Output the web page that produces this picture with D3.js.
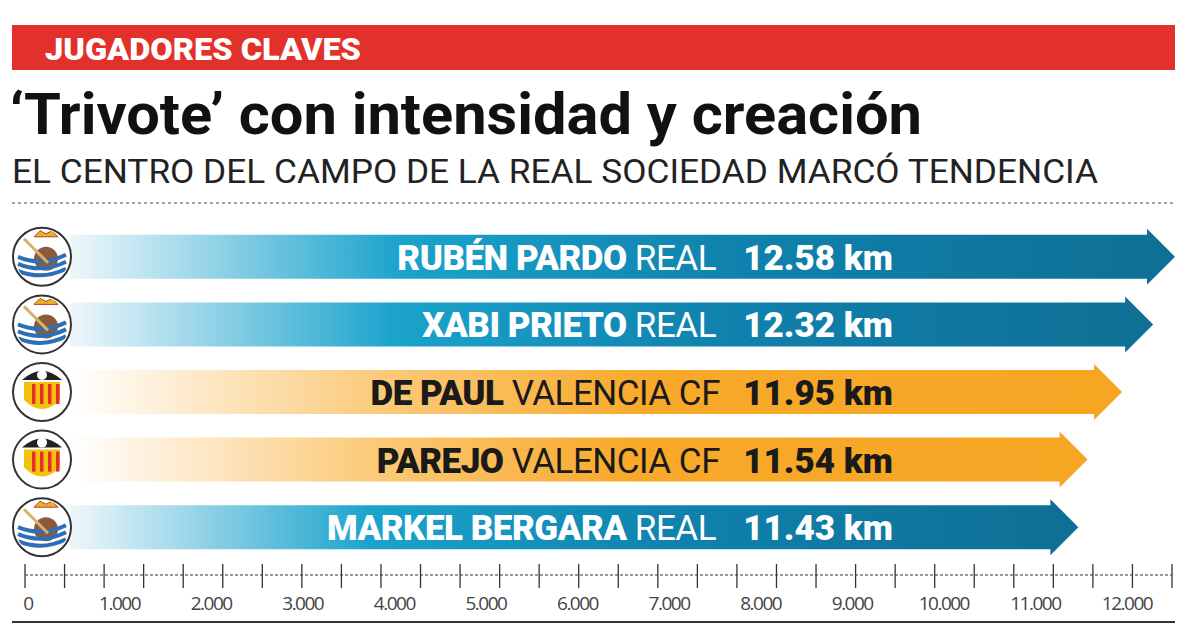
<!DOCTYPE html>
<html><head><meta charset="utf-8">
<script src="https://cdn.jsdelivr.net/npm/d3@7"></script>
<style>body{margin:0;background:#fff}</style></head>
<body><div id="chart"></div>
<script>
var players = ["RUBÉN PARDO","XABI PRIETO","DE PAUL","PAREJO","MARKEL BERGARA"];
var teams = ["REAL","REAL","VALENCIA CF","VALENCIA CF","REAL"];
var km = [12.58,12.32,11.95,11.54,11.43];
var axisLabels = [0,1000,2000,3000,4000,5000,6000,7000,8000,9000,10000,11000,12000];
var minorTicks = d3.range(0,30);

var svg = d3.select("#chart").append("svg").attr("width",1200).attr("height",642);
var defs = svg.append("defs");
defs.append("clipPath").attr("id","crestclip").append("circle").attr("r",27);

function grad(id, stops){
  var g = defs.append("linearGradient").attr("id",id).attr("x1","0").attr("x2","1").attr("y1","0").attr("y2","0");
  stops.forEach(function(s){ g.append("stop").attr("offset",s[0]).attr("stop-color",s[1]); });
}
grad("blue",[[0,"#eef7fb"],[0.3,"#1aa3cc"],[0.6,"#0f82ad"],[1,"#0f6f95"]]);
grad("orange",[[0,"#ffffff"],[0.3,"#fbc978"],[0.55,"#f8a92a"],[1,"#f6a623"]]);

// header
svg.append("rect").attr("x",12).attr("y",25).attr("width",1163).attr("height",45).attr("fill","#e2312a");
svg.append("text").attr("x",45).attr("y",60).text("JUGADORES CLAVES")
   .attr("font-family","Roboto").attr("font-weight","900").attr("font-size",31).attr("fill","#fff")
   .attr("textLength",316).attr("lengthAdjust","spacingAndGlyphs");
svg.append("text").attr("x",10).attr("y",134).text("‘Trivote’ con intensidad y creación")
   .attr("font-family","Roboto").attr("font-weight","bold").attr("font-size",58).attr("fill","#111")
   .attr("textLength",912).attr("lengthAdjust","spacingAndGlyphs");
svg.append("text").attr("x",12).attr("y",183).text("EL CENTRO DEL CAMPO DE LA REAL SOCIEDAD MARCÓ TENDENCIA")
   .attr("font-family","Roboto").attr("font-size",33).attr("fill","#222")
   .attr("textLength",1086).attr("lengthAdjust","spacingAndGlyphs");
svg.append("line").attr("x1",12).attr("x2",1175).attr("y1",203).attr("y2",203)
   .attr("stroke","#444").attr("stroke-dasharray","3,3");

// bars
var x = d3.scaleLinear().domain([0,12.58]).range([118,1175]);
var y = d3.scaleBand().domain(players).range([223,561]).paddingInner(0.0);
var bh = 44, hh = 56, hw = 28;

var rows = svg.selectAll(".row").data(players).enter().append("g")
   .attr("transform",function(d){ return "translate(0,"+(y(d)+y.bandwidth()/2)+")"; });

rows.append("path")
   .attr("d",function(d,i){
     var e = x(km[i]);
     return "M70,"+(-bh/2)+"L"+(e-hw)+","+(-bh/2)+"L"+(e-hw)+","+(-hh/2)+"L"+e+",0L"+(e-hw)+","+(hh/2)+"L"+(e-hw)+","+(bh/2)+"L70,"+(bh/2)+"Z";
   })
   .attr("fill",function(d,i){ return teams[i]=="REAL" ? "url(#blue)" : "url(#orange)"; });

rows.append("text").attr("x",893).attr("y",13).attr("text-anchor","end")
   .attr("font-family","Roboto").attr("font-weight","900").attr("font-size",35)
   .attr("fill",function(d,i){ return teams[i]=="REAL" ? "#fff" : "#1a1a1a"; })
   .text(function(d,i){ return d3.format(".2f")(km[i])+" km"; });

var nm = rows.append("text").attr("x",function(d,i){ return teams[i]=="REAL" ? 716 : 720; }).attr("y",13)
   .attr("text-anchor","end").attr("font-family","Roboto").attr("font-size",35)
   .attr("fill",function(d,i){ return teams[i]=="REAL" ? "#fff" : "#1a1a1a"; })
   .attr("letter-spacing","-0.5");
nm.append("tspan").attr("font-weight","900").text(function(d){ return d+" "; });
nm.append("tspan").text(function(d,i){ return teams[i]; });

// crests
var crest = rows.append("g").attr("transform","translate(42,0)");
crest.append("circle").attr("r",29).attr("fill","#fff").attr("stroke","#333").attr("stroke-width",2);
crest.each(function(d,i){
  var g = d3.select(this).append("g").attr("clip-path","url(#crestclip)");
  if(teams[i]=="REAL"){
    g.append("circle").attr("cx",4).attr("cy",2).attr("r",12).attr("fill","#8a5a3a");
    g.append("path").attr("d","M-8,-20L-2,-26L4,-23L10,-26L16,-20Z").attr("fill","#e8b423").attr("stroke","#c0392b");
    [6,13,20].forEach(function(o){
      g.append("path").attr("d","M-24,"+(o-6)+"Q0,"+(o+4)+" 24,"+(o-8)).attr("stroke","#2c6fb5").attr("stroke-width",4).attr("fill","none");
    });
    g.append("line").attr("x1",-18).attr("y1",-18).attr("x2",6).attr("y2",6).attr("stroke","#d9b06a").attr("stroke-width",3);
  } else {
    g.append("path").attr("d","M-18,-10L18,-10L18,8Q0,26 -18,8Z").attr("fill","#f4c20d");
    [-10,-2,6,14].forEach(function(o){
      g.append("rect").attr("x",o).attr("y",-8).attr("width",3.5).attr("height",20).attr("fill","#e2312a");
    });
    g.append("path").attr("d","M-20,-12Q0,-30 20,-12Z").attr("fill","#222");
    g.append("circle").attr("cy",-17).attr("r",5).attr("fill","#fff");
  }
});

// axis
var axisY = 575;
var tickX = d3.scaleLinear().domain([0,29]).range([25,1172]);
svg.append("line").attr("x1",25).attr("x2",1172).attr("y1",axisY).attr("y2",axisY)
   .attr("stroke","#333").attr("stroke-dasharray","3,2");
svg.selectAll(".tk").data(minorTicks).enter().append("line")
   .attr("x1",function(d){ return tickX(d); }).attr("x2",function(d){ return tickX(d); })
   .attr("y1",axisY-11).attr("y2",axisY+13).attr("stroke","#333").attr("stroke-width",1.3);
var xl = d3.scaleLinear().domain([0,12000]).range([28,1127]);
svg.selectAll(".lb").data(axisLabels).enter().append("text")
   .attr("x",function(d){ return xl(d); }).attr("y",610).attr("text-anchor","middle")
   .attr("font-family","Open Sans").attr("font-size",19).attr("fill","#444").attr("letter-spacing","-1.5")
   .text(function(d){ return d3.format(",")(d).replace(/,/g,"."); });
svg.append("line").attr("x1",12).attr("x2",1175).attr("y1",622).attr("y2",622).attr("stroke","#333").attr("stroke-width",2);
</script></body></html>
